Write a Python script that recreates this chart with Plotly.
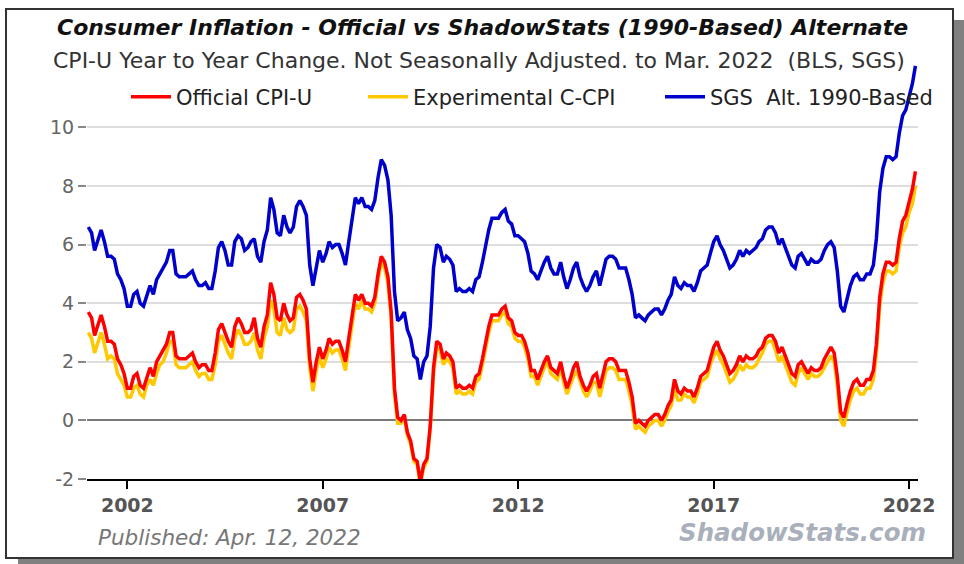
import pandas as pd
import plotly.graph_objects as go

# ---------------- data (monthly, Jan 2001 - Mar 2022) ----------------
start_month = "2001-01-01"

official_cpi_u = [
    3.7, 3.5, 2.9, 3.3, 3.6, 3.2, 2.7, 2.7, 2.6, 2.1, 1.9, 1.6,
    1.1, 1.1, 1.5, 1.6, 1.2, 1.1, 1.5, 1.8, 1.5, 2.0, 2.2, 2.4,
    2.6, 3.0, 3.0, 2.2, 2.1, 2.1, 2.1, 2.2, 2.3, 2.0, 1.8, 1.9,
    1.9, 1.7, 1.7, 2.3, 3.1, 3.3, 3.0, 2.7, 2.5, 3.2, 3.5, 3.3,
    3.0, 3.0, 3.1, 3.5, 2.8, 2.5, 3.2, 3.6, 4.7, 4.3, 3.5, 3.4,
    4.0, 3.6, 3.4, 3.5, 4.2, 4.3, 4.1, 3.8, 2.1, 1.3, 2.0, 2.5,
    2.1, 2.4, 2.8, 2.6, 2.7, 2.7, 2.4, 2.0, 2.8, 3.5, 4.3, 4.1,
    4.3, 4.0, 4.0, 3.9, 4.2, 5.0, 5.6, 5.4, 4.9, 3.7, 1.1, 0.1,
    0.0, 0.2, -0.4, -0.7, -1.3, -1.4, -2.1, -1.5, -1.3, -0.2, 1.8, 2.7,
    2.6, 2.1, 2.3, 2.2, 2.0, 1.1, 1.2, 1.1, 1.1, 1.2, 1.1, 1.5,
    1.6, 2.1, 2.7, 3.2, 3.6, 3.6, 3.6, 3.8, 3.9, 3.5, 3.4, 3.0,
    2.9, 2.9, 2.7, 2.3, 1.7, 1.7, 1.4, 1.7, 2.0, 2.2, 1.8, 1.7,
    1.6, 2.0, 1.5, 1.1, 1.4, 1.8, 2.0, 1.5, 1.2, 1.0, 1.2, 1.5,
    1.6, 1.1, 1.5, 2.0, 2.1, 2.1, 2.0, 1.7, 1.7, 1.7, 1.3, 0.8,
    -0.1, 0.0, -0.1, -0.2, 0.0, 0.1, 0.2, 0.2, 0.0, 0.2, 0.5, 0.7,
    1.4, 1.0, 0.9, 1.1, 1.0, 1.0, 0.8, 1.1, 1.5, 1.6, 1.7, 2.1,
    2.5, 2.7, 2.4, 2.2, 1.9, 1.6, 1.7, 1.9, 2.2, 2.0, 2.2, 2.1,
    2.1, 2.2, 2.4, 2.5, 2.8, 2.9, 2.9, 2.7, 2.3, 2.5, 2.2, 1.9,
    1.6, 1.5, 1.9, 2.0, 1.8, 1.6, 1.8, 1.7, 1.7, 1.8, 2.1, 2.3,
    2.5, 2.3, 1.5, 0.3, 0.1, 0.6, 1.0, 1.3, 1.4, 1.2, 1.2, 1.4,
    1.4, 1.7, 2.6, 4.2, 5.0, 5.4, 5.4, 5.3, 5.4, 6.2, 6.8, 7.0,
    7.5, 7.9, 8.5,
]

experimental_c_cpi = [
    3.0, 2.8, 2.3, 2.7, 3.0, 2.6, 2.1, 2.2, 2.1, 1.6, 1.4, 1.2,
    0.8, 0.8, 1.1, 1.2, 0.9, 0.8, 1.2, 1.4, 1.2, 1.6, 1.9, 2.0,
    2.3, 2.7, 2.7, 1.9, 1.8, 1.8, 1.8, 1.9, 2.0, 1.7, 1.5, 1.6,
    1.6, 1.4, 1.4, 1.9, 2.7, 2.9, 2.6, 2.3, 2.1, 2.8, 3.1, 2.9,
    2.6, 2.6, 2.7, 3.0, 2.4, 2.1, 2.8, 3.2, 4.1, 3.8, 3.0, 2.9,
    3.5, 3.1, 3.0, 3.1, 3.8, 3.9, 3.7, 3.4, 1.8, 1.0, 1.7, 2.2,
    1.8, 2.1, 2.5, 2.3, 2.4, 2.4, 2.1, 1.7, 2.5, 3.2, 4.0, 3.8,
    4.1, 3.8, 3.8, 3.7, 4.0, 4.8, 5.4, 5.2, 4.7, 3.5, 0.9, -0.1,
    -0.1, 0.1, -0.5, -0.8, -1.4, -1.5, -2.2, -1.6, -1.4, -0.3, 1.6, 2.5,
    2.4, 1.9, 2.1, 2.0, 1.8, 0.9, 1.0, 0.9, 0.9, 1.0, 0.9, 1.3,
    1.4, 1.9, 2.5, 3.0, 3.4, 3.4, 3.4, 3.6, 3.7, 3.3, 3.2, 2.8,
    2.7, 2.7, 2.5, 2.1, 1.5, 1.5, 1.2, 1.5, 1.8, 2.0, 1.6, 1.5,
    1.4, 1.8, 1.3, 0.9, 1.2, 1.5, 1.7, 1.3, 1.0, 0.8, 1.0, 1.3,
    1.3, 0.8, 1.2, 1.7, 1.8, 1.8, 1.7, 1.4, 1.4, 1.4, 1.0, 0.5,
    -0.3, -0.2, -0.3, -0.4, -0.2, -0.1, 0.0, 0.0, -0.2, 0.0, 0.3, 0.5,
    1.1, 0.7, 0.7, 0.9, 0.8, 0.8, 0.6, 0.9, 1.3, 1.4, 1.5, 1.9,
    2.2, 2.4, 2.1, 1.9, 1.6, 1.3, 1.4, 1.6, 1.9, 1.7, 1.9, 1.8,
    1.8, 1.9, 2.1, 2.3, 2.6, 2.7, 2.7, 2.4, 2.0, 2.2, 1.9, 1.6,
    1.3, 1.2, 1.6, 1.8, 1.6, 1.4, 1.6, 1.5, 1.5, 1.6, 1.8, 2.0,
    2.2, 2.0, 1.2, 0.0, -0.2, 0.3, 0.7, 1.0, 1.1, 0.9, 0.9, 1.1,
    1.1, 1.4, 2.3, 3.9, 4.7, 5.1, 5.1, 5.0, 5.1, 5.9, 6.4, 6.6,
    7.1, 7.4, 8.0,
]

sgs_alt_1990 = [
    6.6, 6.4, 5.8, 6.2, 6.5, 6.1, 5.6, 5.6, 5.5, 5.0, 4.8, 4.5,
    3.9, 3.9, 4.3, 4.4, 4.0, 3.9, 4.3, 4.6, 4.3, 4.8, 5.0, 5.2,
    5.4, 5.8, 5.8, 5.0, 4.9, 4.9, 4.9, 5.0, 5.1, 4.8, 4.6, 4.6,
    4.7, 4.5, 4.5, 5.1, 5.9, 6.1, 5.8, 5.3, 5.3, 6.1, 6.3, 6.2,
    5.8, 5.9, 6.1, 6.2, 5.6, 5.4, 6.1, 6.5, 7.6, 7.2, 6.4, 6.3,
    7.0, 6.6, 6.4, 6.6, 7.3, 7.5, 7.3, 7.0, 5.3, 4.6, 5.3, 5.8,
    5.4, 5.7, 6.1, 5.9, 6.0, 6.0, 5.7, 5.3, 6.1, 6.8, 7.6, 7.4,
    7.6, 7.3, 7.3, 7.2, 7.5, 8.3, 8.9, 8.7, 8.2, 7.0, 4.4, 3.4,
    3.5, 3.7, 3.1, 2.8, 2.2, 2.1, 1.4, 2.0, 2.2, 3.2, 5.2, 6.0,
    5.9, 5.4, 5.6, 5.5, 5.3, 4.4, 4.5, 4.4, 4.4, 4.5, 4.4, 4.8,
    4.9, 5.4, 6.0, 6.5, 6.9, 6.9, 6.9, 7.1, 7.2, 6.8, 6.7, 6.3,
    6.3, 6.2, 6.1, 5.7, 5.1, 5.0, 4.8, 5.1, 5.4, 5.6, 5.2, 5.0,
    5.0, 5.4, 4.9, 4.5, 4.8, 5.2, 5.4, 4.9, 4.6, 4.4, 4.6, 4.9,
    5.1, 4.6, 5.0, 5.5, 5.6, 5.6, 5.5, 5.2, 5.2, 5.2, 4.8, 4.3,
    3.5, 3.6, 3.5, 3.4, 3.6, 3.7, 3.8, 3.8, 3.6, 3.8, 4.1, 4.3,
    4.9, 4.6, 4.5, 4.7, 4.6, 4.6, 4.4, 4.7, 5.1, 5.2, 5.3, 5.7,
    6.1, 6.3, 6.0, 5.8, 5.5, 5.2, 5.3, 5.5, 5.8, 5.6, 5.8, 5.7,
    5.8, 5.9, 6.1, 6.2, 6.5, 6.6, 6.6, 6.4, 6.0, 6.2, 5.9, 5.6,
    5.3, 5.2, 5.6, 5.7, 5.5, 5.3, 5.5, 5.4, 5.4, 5.5, 5.8, 6.0,
    6.1, 5.9, 5.1, 3.9, 3.7, 4.2, 4.6, 4.9, 5.0, 4.8, 4.8, 5.0,
    5.0, 5.3, 6.2, 7.8, 8.6, 9.0, 9.0, 8.9, 9.0, 9.8, 10.4, 10.6,
    11.1, 11.5, 12.1,
]

series_names = ["Official CPI-U", "Experimental C-CPI", "SGS\u00a0 Alt. 1990-Based"]
y_tick_values = [-2, 0, 2, 4, 6, 8, 10]
y_tick_labels = ["-2", "0", "2", "4", "6", "8", "10"]
x_tick_dates = ["2002-01-01", "2007-01-01", "2012-01-01", "2017-01-01", "2022-01-01"]
x_tick_labels = ["2002", "2007", "2012", "2017", "2022"]

title_text = "Consumer Inflation - Official vs ShadowStats (1990-Based) Alternate"
subtitle_text = "CPI-U Year to Year Change. Not Seasonally Adjusted. to Mar. 2022\u00a0 (BLS, SGS)"
published_text = "Published: Apr. 12, 2022"
brand_text = "ShadowStats.com"

dates = pd.date_range(start_month, periods=len(official_cpi_u), freq="MS")

# ---------------- layout helpers (pixel -> paper) ----------------
W, H = 964, 564
L, R, T, B = 87, 46, 60, 85
PW, PH = W - L - R, H - T - B


def px(x):
    return (x - L) / PW


def py(y):
    return (H - B - y) / PH


FONT = "DejaVu Sans, Arial, sans-serif"

fig = go.Figure()

fig.add_trace(go.Scatter(x=dates, y=experimental_c_cpi, name=series_names[1], mode="lines",
                         line=dict(color="#ffc800", width=3.5), legend="legend2"))
fig.add_trace(go.Scatter(x=dates, y=official_cpi_u, name=series_names[0], mode="lines",
                         line=dict(color="#ff0000", width=3.5), legend="legend"))
fig.add_trace(go.Scatter(x=dates, y=sgs_alt_1990, name=series_names[2], mode="lines",
                         line=dict(color="#0000cc", width=3.5), legend="legend3"))

leg_common = dict(orientation="h", xanchor="left", yanchor="middle", bgcolor="rgba(0,0,0,0)",
                  font=dict(family=FONT, size=21, color="#222222"), itemwidth=40)

shapes = [
    # drop shadow
    dict(type="rect", xref="paper", yref="paper", x0=px(18), x1=px(966), y0=py(566), y1=py(20),
         fillcolor="#808080", line=dict(width=0), layer="below"),
    # frame
    dict(type="rect", xref="paper", yref="paper", x0=px(6), x1=px(953), y0=py(558), y1=py(9),
         fillcolor="white", line=dict(color="#333333", width=2), layer="below"),
]

annotations = [
    dict(text="<b><i>" + title_text + "</i></b>", x=px(482), y=py(27), xref="paper", yref="paper",
         xanchor="center", yanchor="middle", showarrow=False,
         font=dict(family=FONT, size=22, color="#111111")),
    dict(text=subtitle_text, x=px(479), y=py(60), xref="paper", yref="paper",
         xanchor="center", yanchor="middle", showarrow=False,
         font=dict(family=FONT, size=22, color="#333333")),
    dict(text="<i>" + published_text + "</i>", x=px(96), y=py(537), xref="paper", yref="paper",
         xanchor="left", yanchor="middle", showarrow=False,
         font=dict(family=FONT, size=21.5, color="#777777")),
    dict(text="<b><i>" + brand_text + "</i></b>", x=px(928), y=py(532), xref="paper", yref="paper",
         xanchor="right", yanchor="middle", showarrow=False,
         font=dict(family=FONT, size=24.5, color="#a9afbb")),
]

fig.update_layout(
    width=W, height=H, autosize=False,
    margin=dict(l=L, r=R, t=T, b=B),
    paper_bgcolor="white", plot_bgcolor="white",
    font=dict(family=FONT),
    showlegend=True,
    legend=dict(x=px(126), y=py(97), **leg_common),
    legend2=dict(x=px(363), y=py(97), **leg_common),
    legend3=dict(x=px(660), y=py(97), **leg_common),
    shapes=shapes,
    annotations=annotations,
    xaxis=dict(
        type="date", range=["2000-12-20", "2022-03-25"],
        tickvals=x_tick_dates, ticktext=x_tick_labels,
        showgrid=False, zeroline=False,
        showline=True, linecolor="#000000", linewidth=2,
        ticks="outside", ticklen=8, tickwidth=2, tickcolor="#000000",
        tickfont=dict(family=FONT, size=19, color="#555555", weight="bold"),
    ),
    yaxis=dict(
        range=[-2, 12.3], tickvals=y_tick_values, ticktext=y_tick_labels,
        showgrid=True, gridcolor="#dddddd", gridwidth=2,
        zeroline=True, zerolinecolor="#7a7a7a", zerolinewidth=2,
        showline=False,
        ticks="outside", ticklen=8, tickwidth=1.5, tickcolor="#888888",
        ticklabelstandoff=0,
        tickfont=dict(family=FONT, size=19, color="#666666"),
    ),
)

fig.write_html(
    "out.html",
    config={"displayModeBar": False},
    post_script="document.body.style.margin='0px';document.body.style.overflow='hidden';",
)
